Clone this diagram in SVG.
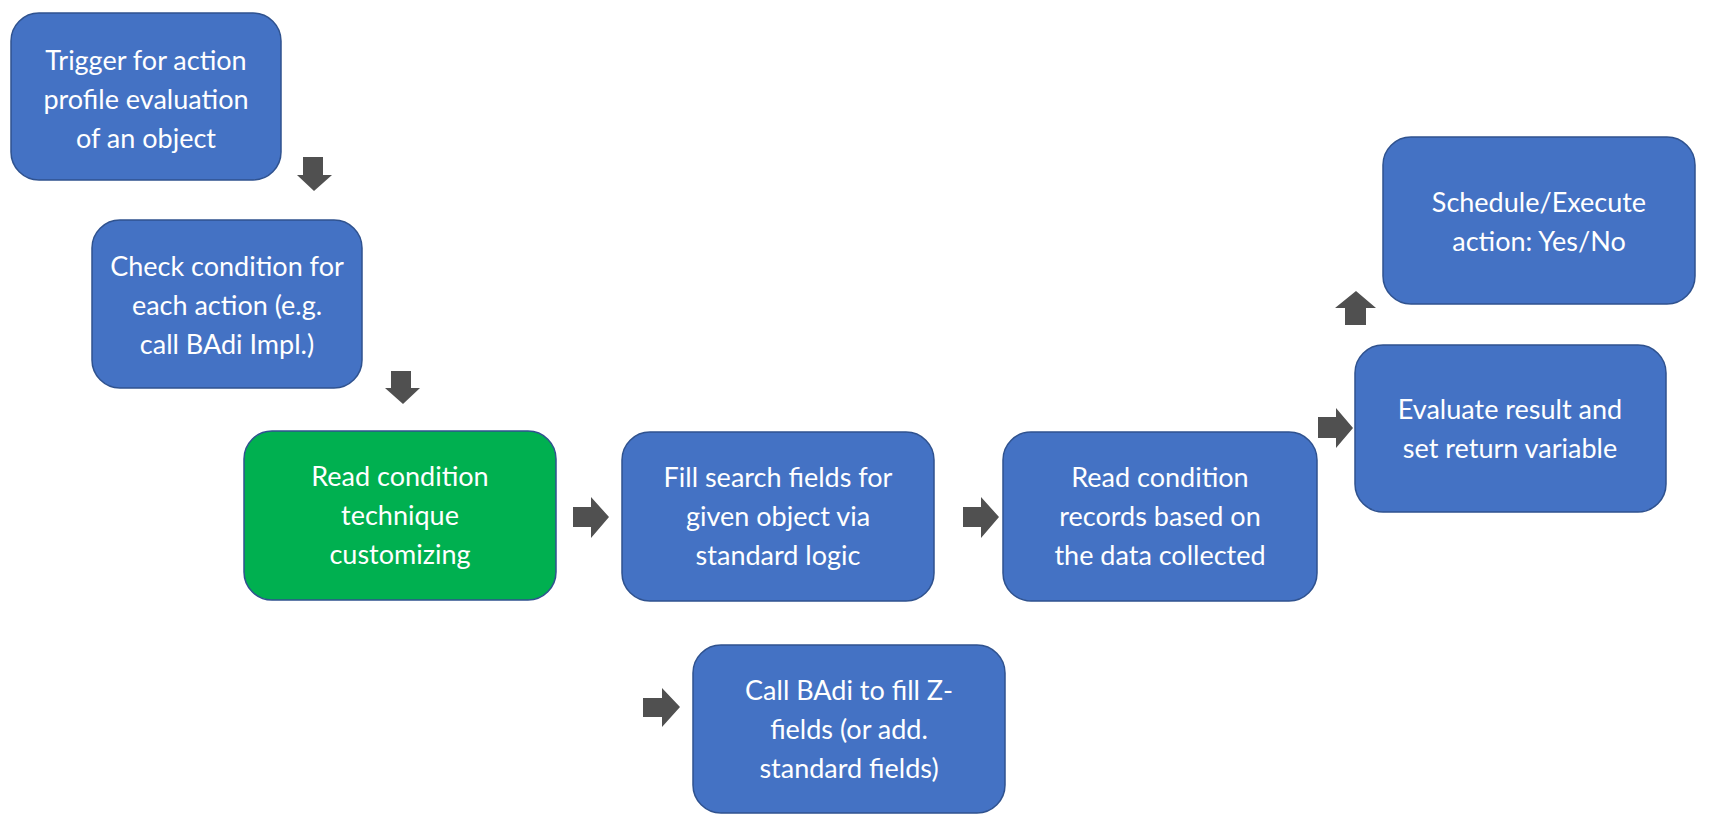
<svg xmlns="http://www.w3.org/2000/svg" width="1713" height="821" viewBox="0 0 1713 821">
<style>
.b{fill:#4472C4;stroke:#2F528F;stroke-width:1.5}
.g{fill:#00B050;stroke:#2F528F;stroke-width:1.5}
text{font-family:Lato,"Liberation Sans",sans-serif;font-size:27px;fill:#fff;text-anchor:middle}
.a{fill:#505050}
</style>
<rect width="1713" height="821" fill="#fff"/>
<g id="n1"><rect class="b" x="11" y="13" width="270" height="167" rx="28"/>
<text x="146" y="70">Trigger for action</text><text x="146" y="109">profile evaluation</text><text x="146" y="148">of an object</text></g>
<g id="n2"><rect class="b" x="92" y="220" width="270" height="168" rx="28"/>
<text x="227" y="276">Check condition for</text><text x="227" y="315">each action (e.g.</text><text x="227" y="354">call BAdi Impl.)</text></g>
<g id="n3"><rect class="g" x="244" y="431" width="312" height="169" rx="28"/>
<text x="400" y="486">Read condition</text><text x="400" y="525">technique</text><text x="400" y="564">customizing</text></g>
<g id="n4"><rect class="b" x="622" y="432" width="312" height="169" rx="28"/>
<text x="778" y="487">Fill search fields for</text><text x="778" y="526">given object via</text><text x="778" y="565">standard logic</text></g>
<g id="n5"><rect class="b" x="1003" y="432" width="314" height="169" rx="28"/>
<text x="1160" y="487">Read condition</text><text x="1160" y="526">records based on</text><text x="1160" y="565">the data collected</text></g>
<g id="n6"><rect class="b" x="693" y="645" width="312" height="168" rx="28"/>
<text x="849" y="700">Call BAdi to fill Z-</text><text x="849" y="739">fields (or add.</text><text x="849" y="778">standard fields)</text></g>
<g id="n7"><rect class="b" x="1355" y="345" width="311" height="167" rx="28"/>
<text x="1510" y="419">Evaluate result and</text><text x="1510" y="458">set return variable</text></g>
<g id="n8"><rect class="b" x="1383" y="137" width="312" height="167" rx="28"/>
<text x="1539" y="212">Schedule/Execute</text><text x="1539" y="251">action: Yes/No</text></g>
<g id="connectors">
<polygon class="a" points="303,157 323,157 323,175 332,175 314,191 297,175 303,175"/>
<polygon class="a" points="391,371 411,371 411,388 420,388 403,404 385,388 391,388"/>
<polygon class="a" points="573,507 591,507 591,497 609,517 591,538 591,527 573,527"/>
<polygon class="a" points="963,507 981,507 981,497 999,517 981,538 981,527 963,527"/>
<polygon class="a" points="643,698 662,698 662,688 680,707 662,727 662,717 643,717"/>
<polygon class="a" points="1318,417 1336,417 1336,408 1353,428 1336,448 1336,438 1318,438"/>
<polygon class="a" points="1345,325 1366,325 1366,308 1376,308 1356,291 1335,308 1345,308"/>
</g>
</svg>
